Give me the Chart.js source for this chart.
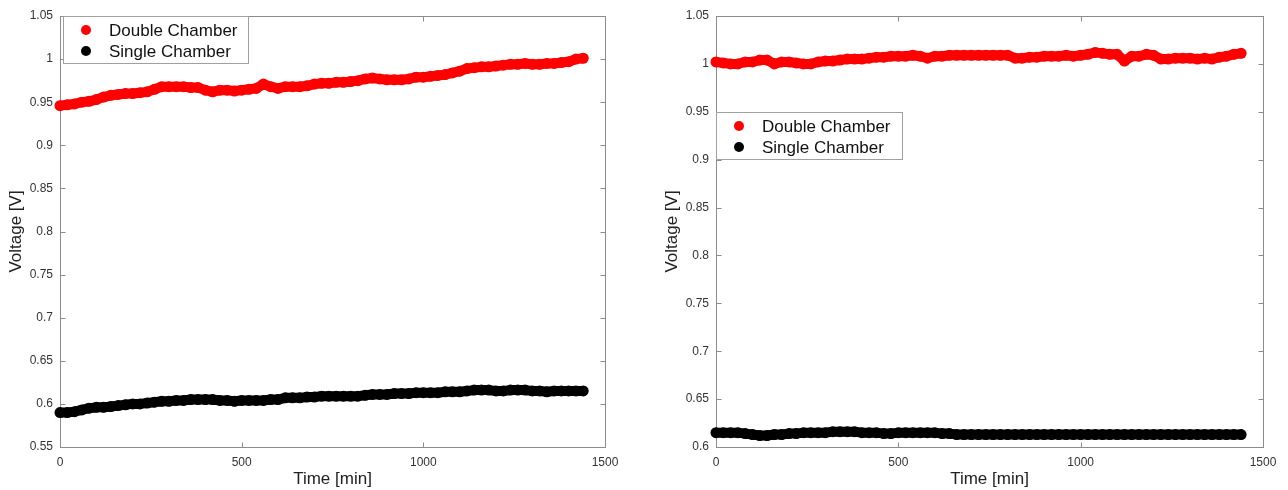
<!DOCTYPE html>
<html>
<head>
<meta charset="utf-8">
<script src="https://cdn.jsdelivr.net/npm/chart.js@4/dist/chart.umd.min.js"></script>
<style>
html, body { margin: 0; padding: 0; background: #fff; }
#wrap { position: relative; width: 1288px; height: 490px; }
canvas { position: absolute; top: 0; }
#leftChart { left: 0; }
#rightChart { left: 644px; }
</style>
</head>
<body>
<div id="wrap">
<canvas id="leftChart" width="644" height="490"></canvas>
<canvas id="rightChart" width="644" height="490"></canvas>
</div>
<script>
// time axis in minutes (one reading every 20 min)
var times = [0, 20, 40, 60, 80, 100, 120, 140, 160, 180, 200, 220, 240, 260, 280, 300, 320, 340, 360, 380,
    400, 420, 440, 460, 480, 500, 520, 540, 560, 580, 600, 620, 640, 660, 680, 700, 720, 740, 760, 780,
    800, 820, 840, 860, 880, 900, 920, 940, 960, 980, 1000, 1020, 1040, 1060, 1080, 1100, 1120, 1140, 1160, 1180,
    1200, 1220, 1240, 1260, 1280, 1300, 1320, 1340, 1360, 1380, 1400, 1420, 1440];

// left panel
var leftDouble = [0.946, 0.947, 0.948, 0.950, 0.951, 0.953, 0.956, 0.958, 0.959, 0.960, 0.960, 0.961, 0.962, 0.965, 0.968, 0.968, 0.968, 0.968, 0.967, 0.967,
    0.964, 0.962, 0.964, 0.964, 0.963, 0.964, 0.965, 0.966, 0.971, 0.968, 0.966, 0.968, 0.968, 0.968, 0.969, 0.971, 0.972, 0.972, 0.973, 0.973,
    0.974, 0.975, 0.977, 0.978, 0.977, 0.976, 0.976, 0.976, 0.977, 0.979, 0.979, 0.980, 0.981, 0.982, 0.984, 0.986, 0.989, 0.990, 0.991, 0.991,
    0.992, 0.993, 0.994, 0.994, 0.995, 0.994, 0.994, 0.995, 0.995, 0.996, 0.997, 1.000, 1.001];
var leftSingle = [0.590, 0.590, 0.591, 0.593, 0.595, 0.596, 0.596, 0.597, 0.598, 0.599, 0.600, 0.600, 0.601, 0.602, 0.603, 0.603, 0.604, 0.604, 0.605, 0.605,
    0.605, 0.605, 0.604, 0.604, 0.603, 0.604, 0.604, 0.604, 0.604, 0.605, 0.605, 0.607, 0.607, 0.607, 0.608, 0.608, 0.609, 0.609, 0.609, 0.609,
    0.609, 0.609, 0.610, 0.611, 0.611, 0.611, 0.612, 0.612, 0.612, 0.613, 0.613, 0.613, 0.613, 0.614, 0.614, 0.614, 0.615, 0.616, 0.616, 0.616,
    0.615, 0.615, 0.616, 0.616, 0.616, 0.615, 0.615, 0.614, 0.615, 0.615, 0.615, 0.615, 0.615];

// right panel
var rightDouble = [1.002, 1.001, 1.000, 1.000, 1.002, 1.002, 1.004, 1.004, 1.000, 1.002, 1.002, 1.001, 1.000, 1.000, 1.002, 1.003, 1.003, 1.004, 1.005, 1.005,
    1.005, 1.006, 1.007, 1.007, 1.008, 1.008, 1.008, 1.009, 1.008, 1.006, 1.008, 1.008, 1.009, 1.009, 1.009, 1.009, 1.009, 1.009, 1.009, 1.009,
    1.009, 1.006, 1.006, 1.007, 1.007, 1.008, 1.008, 1.008, 1.009, 1.008, 1.009, 1.010, 1.012, 1.011, 1.010, 1.010, 1.003, 1.008, 1.008, 1.010,
    1.009, 1.005, 1.005, 1.006, 1.006, 1.006, 1.005, 1.006, 1.005, 1.007, 1.008, 1.010, 1.011];
var rightSingle = [0.615, 0.615, 0.615, 0.615, 0.614, 0.613, 0.612, 0.612, 0.613, 0.613, 0.614, 0.614, 0.615, 0.615, 0.615, 0.615, 0.616, 0.616, 0.616, 0.616,
    0.615, 0.615, 0.615, 0.614, 0.614, 0.615, 0.615, 0.615, 0.615, 0.615, 0.615, 0.614, 0.614, 0.613, 0.613, 0.613, 0.613, 0.613, 0.613, 0.613,
    0.613, 0.613, 0.613, 0.613, 0.613, 0.613, 0.613, 0.613, 0.613, 0.613, 0.613, 0.613, 0.613, 0.613, 0.613, 0.613, 0.613, 0.613, 0.613, 0.613,
    0.613, 0.613, 0.613, 0.613, 0.613, 0.613, 0.613, 0.613, 0.613, 0.613, 0.613, 0.613, 0.613];

var seriesNames = ['Double Chamber', 'Single Chamber'];
var xTicks = [0, 500, 1000, 1500];
var yTicksLeft = [0.55, 0.6, 0.65, 0.7, 0.75, 0.8, 0.85, 0.9, 0.95, 1, 1.05];
var yTicksRight = [0.6, 0.65, 0.7, 0.75, 0.8, 0.85, 0.9, 0.95, 1, 1.05];

var fontFamily = '"Liberation Sans", Helvetica, Arial, sans-serif';
var textColor = '#333333';
var axisColor = '#8c8c8c';

function toPoints(values) {
    var pts = [];
    for (var i = 0; i < values.length; i++) {
        pts.push({x: times[i], y: values[i]});
    }
    return pts;
}

// box around the axes with inward ticks on all four sides
var frameTicksPlugin = {
    id: 'frameTicks',
    beforeDatasetsDraw: function (chart) {
        var ctx = chart.ctx;
        var a = chart.chartArea;
        var xs = chart.scales.x;
        var ys = chart.scales.y;
        var l = Math.round(a.left) + 0.5, r = Math.round(a.right) + 0.5;
        var t = Math.round(a.top) + 0.5, b = Math.round(a.bottom) + 0.5;
        ctx.save();
        ctx.strokeStyle = axisColor;
        ctx.lineWidth = 1;
        ctx.strokeRect(l, t, r - l, b - t);
        ctx.beginPath();
        xs.ticks.forEach(function (tk) {
            var px = Math.round(xs.getPixelForValue(tk.value)) + 0.5;
            ctx.moveTo(px, b); ctx.lineTo(px, b - 5);
            ctx.moveTo(px, t); ctx.lineTo(px, t + 5);
        });
        ys.ticks.forEach(function (tk) {
            var py = Math.round(ys.getPixelForValue(tk.value)) + 0.5;
            ctx.moveTo(l, py); ctx.lineTo(l + 5, py);
            ctx.moveTo(r, py); ctx.lineTo(r - 5, py);
        });
        ctx.stroke();
        ctx.restore();
    }
};

// MATLAB style legend box
var boxLegendPlugin = {
    id: 'boxLegend',
    afterDraw: function (chart, args, opts) {
        var ctx = chart.ctx;
        var ds = chart.data.datasets;
        ctx.save();
        ctx.fillStyle = '#ffffff';
        ctx.fillRect(opts.x, opts.y, opts.w, opts.h);
        ctx.strokeStyle = '#a0a0a0';
        ctx.lineWidth = 1;
        ctx.strokeRect(opts.x + 0.5, opts.y + 0.5, opts.w, opts.h);
        ctx.font = '17px ' + fontFamily;
        ctx.textBaseline = 'middle';
        for (var i = 0; i < ds.length; i++) {
            var cy = opts.y + 14 + i * 21;
            ctx.fillStyle = ds[i].backgroundColor;
            ctx.beginPath();
            ctx.arc(opts.x + 23, cy, 5, 0, Math.PI * 2);
            ctx.fill();
            ctx.fillStyle = '#111111';
            ctx.fillText(ds[i].label, opts.x + 46, cy + 1);
        }
        ctx.restore();
    }
};

function seriesStyle(label, values, color) {
    // dense markers in the original merge into a band: thick round line + dots
    return {
        label: label,
        data: toPoints(values),
        showLine: true,
        backgroundColor: color,
        borderColor: color,
        borderWidth: 10,
        borderCapStyle: 'round',
        borderJoinStyle: 'round',
        pointRadius: 5.5,
        pointBorderWidth: 0,
        clip: false
    };
}

function makeChart(canvasId, doubleVals, singleVals, yMin, yTicks, yWidth, rightPad, yTitlePad, legendPos) {
    var ctx = document.getElementById(canvasId);
    return new Chart(ctx, {
        type: 'scatter',
        data: {
            datasets: [
                seriesStyle(seriesNames[0], doubleVals, '#ff0000'),
                seriesStyle(seriesNames[1], singleVals, '#000000')
            ]
        },
        options: {
            responsive: false,
            animation: false,
            devicePixelRatio: 1,
            layout: {padding: {left: 0, top: 16, right: rightPad, bottom: 0}},
            plugins: {
                legend: {display: false},
                tooltip: {enabled: false},
                boxLegend: legendPos
            },
            scales: {
                x: {
                    type: 'linear',
                    min: 0,
                    max: 1500,
                    grid: {display: false, drawTicks: false},
                    border: {display: false},
                    afterBuildTicks: function (scale) {
                        scale.ticks = xTicks.map(function (v) { return {value: v}; });
                    },
                    afterFit: function (scale) { scale.height = 43; },
                    ticks: {
                        color: textColor,
                        padding: 8,
                        maxRotation: 0,
                        font: {size: 12, family: fontFamily},
                        callback: function (v) { return String(v); }
                    },
                    title: {
                        display: true,
                        text: 'Time [min]',
                        color: '#222222',
                        padding: {top: 0, bottom: 0},
                        font: {size: 17, family: fontFamily}
                    }
                },
                y: {
                    type: 'linear',
                    min: yMin,
                    max: 1.05,
                    grid: {display: false, drawTicks: false},
                    border: {display: false},
                    afterBuildTicks: function (scale) {
                        scale.ticks = yTicks.map(function (v) { return {value: v}; });
                    },
                    afterFit: function (scale) { scale.width = yWidth; },
                    ticks: {
                        color: textColor,
                        padding: 7,
                        font: {size: 12, family: fontFamily},
                        callback: function (v) { return String(parseFloat(Number(v).toFixed(2))); }
                    },
                    title: {
                        display: true,
                        text: 'Voltage [V]',
                        color: '#222222',
                        padding: {top: yTitlePad, bottom: 0},
                        font: {size: 17, family: fontFamily}
                    }
                }
            }
        },
        plugins: [frameTicksPlugin, boxLegendPlugin]
    });
}

window.addEventListener('load', function () {
    makeChart('leftChart', leftDouble, leftSingle, 0.55, yTicksLeft, 60, 39, 6, {x: 63, y: 16, w: 185, h: 47});
    makeChart('rightChart', rightDouble, rightSingle, 0.6, yTicksRight, 72, 25, 18, {x: 72, y: 112, w: 186, h: 47});
});
</script>
</body>
</html>
